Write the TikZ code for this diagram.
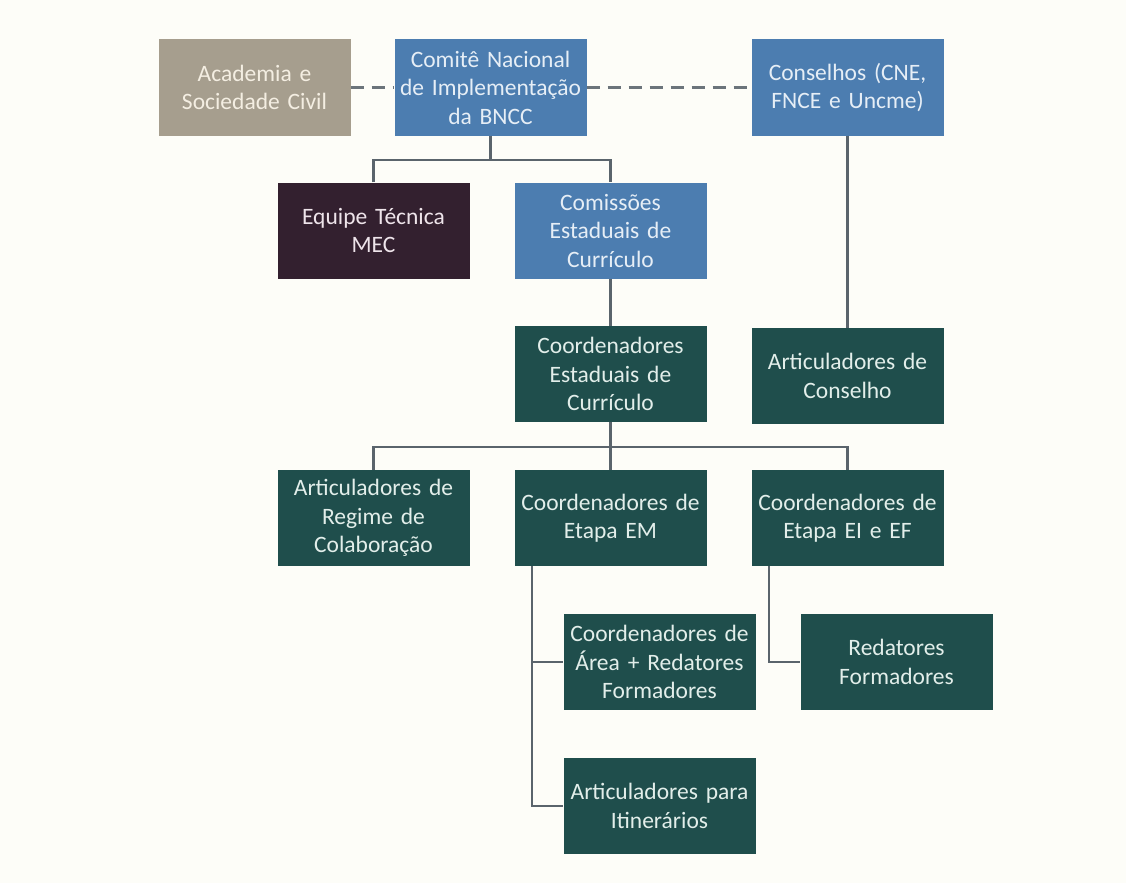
\documentclass[tikz,border=0pt]{standalone}
\usepackage{fontspec}
\setmainfont{Carlito}[WordSpace=0.75]
\definecolor{bgc}{HTML}{FDFDF8}
\definecolor{bluebox}{HTML}{4C7DB0}
\definecolor{bluetext}{HTML}{E6EEF6}
\definecolor{tealbox}{HTML}{1F4E4C}
\definecolor{tealtext}{HTML}{E2EEEA}
\definecolor{tanbox}{HTML}{A69E8E}
\definecolor{tantext}{HTML}{F4EEE2}
\definecolor{purplebox}{HTML}{33202F}
\definecolor{purpletext}{HTML}{EEE4EA}
\definecolor{linec}{HTML}{5A646C}
\tikzset{
  box/.style={rectangle, minimum width=192pt, minimum height=96pt, inner sep=0pt,
    text width=192pt, align=center, font=\fontsize{23.5}{28.5}\selectfont},
  bluestyle/.style={box, fill=bluebox, text=bluetext},
  tealstyle/.style={box, fill=tealbox, text=tealtext},
  tanstyle/.style={box, fill=tanbox, text=tantext},
  purplestyle/.style={box, fill=purplebox, text=purpletext},
  conn/.style={draw=linec, line width=2.5pt},
  dashconn/.style={draw=linec!90, line width=2.5pt, dash pattern=on 13pt off 8pt}
}
\begin{document}
\begin{tikzpicture}[x=1pt,y=-1pt]
\fill[bgc] (0,0) rectangle (1126,883);
\useasboundingbox (0,0) rectangle (1126,883);

\node[tanstyle] (acad) at (254.5,87.5) {Academia e\\Sociedade Civil};
\node[bluestyle] (comite) at (490.5,87.5) {Comitê Nacional\\\makebox[\linewidth]{de Implementação}\\da BNCC};
\node[bluestyle] (cons) at (847.5,87.5) {Conselhos (CNE,\\FNCE e Uncme)};
\node[purplestyle] (equipe) at (373.5,230.5) {Equipe Técnica\\MEC};
\node[bluestyle] (comis) at (610.5,230.5) {Comissões\\Estaduais de\\Currículo};
\node[tealstyle] (coordest) at (610.5,374) {Coordenadores\\Estaduais de\\Currículo};
\node[tealstyle] (artcons) at (847.5,376) {Articuladores de\\Conselho};
\node[tealstyle] (artreg) at (373.5,518) {Articuladores de\\Regime de\\Colaboração};
\node[tealstyle] (etapaEM) at (610.5,518) {Coordenadores de\\Etapa EM};
\node[tealstyle] (etapaEI) at (847.5,518) {Coordenadores de\\Etapa EI e EF};
\node[tealstyle] (area) at (659.5,662) {Coordenadores de\\Área + Redatores\\Formadores};
\node[tealstyle] (redat) at (896.5,662) {Redatores\\Formadores};
\node[tealstyle] (itin) at (659.5,806) {Articuladores para\\Itinerários};

\coordinate (bus1) at (490.5,160);
\coordinate (bus2) at (610.5,447);
\coordinate (emtop) at (532,566);
\coordinate (eitop) at (769,566);

\path[dashconn] (acad.east) -- (comite.west);
\path[dashconn] (comite.east) -- (cons.west);

\path[conn] (comite.south) -- (bus1);
\path[conn] (equipe.north) |- (bus1) -| (comis.north);
\path[conn] (comis.south) -- (coordest.north);
\path[conn] (cons.south) -- (artcons.north);
\path[conn] (coordest.south) -- (etapaEM.north);
\path[conn] (artreg.north) |- (bus2) -| (etapaEI.north);
\path[conn] (emtop) |- (area.west);
\path[conn] (emtop) |- (itin.west);
\path[conn] (eitop) |- (redat.west);
\end{tikzpicture}
\end{document}
